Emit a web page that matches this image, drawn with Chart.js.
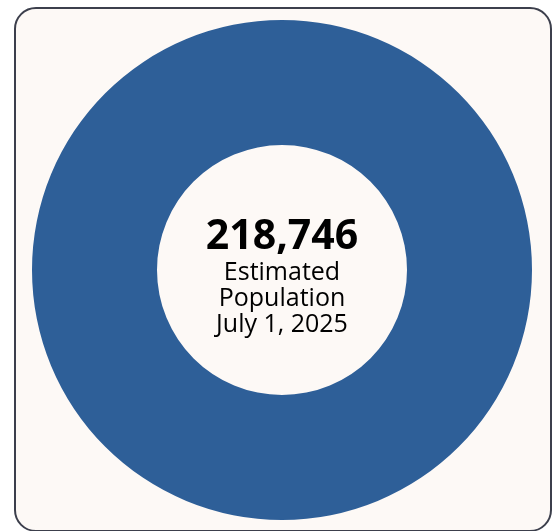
<!DOCTYPE html>
<html>
<head>
<meta charset="utf-8">
<script src="https://cdn.jsdelivr.net/npm/chart.js@4"></script>
<style>
  html, body { margin: 0; padding: 0; background: #ffffff; width: 554px; height: 531px; overflow: hidden; }
  #card { position: absolute; left: 14px; top: 7px; width: 534px; height: 521px;
          border: 2px solid #3c3f4c; border-radius: 22px; background: #fdf9f6; }
  #wrap { position: absolute; left: 32px; top: 20px; width: 500px; height: 500px; }
</style>
</head>
<body>
<div id="card"></div>
<div id="wrap"><canvas id="c" width="500" height="500"></canvas></div>
<script>
const categories = ["Estimated Population July 1, 2025"];
const values = [218746];
const centerValue = "218,746";
const centerLines = ["Estimated", "Population", "July 1, 2025"];

const centerText = {
  id: 'centerText',
  afterDraw(chart) {
    const ctx = chart.ctx;
    const meta = chart.getDatasetMeta(0).data[0];
    const x = meta.x, y = meta.y;
    ctx.save();
    ctx.fillStyle = '#000000';
    ctx.textAlign = 'center';
    ctx.textBaseline = 'alphabetic';
    ctx.font = 'bold 41px "Open Sans", sans-serif';
    ctx.fillText(centerValue, x, y - 21);
    ctx.font = '25px "Open Sans", sans-serif';
    centerLines.forEach((t, i) => ctx.fillText(t, x, y + 10 + i * 26));
    ctx.restore();
  }
};

new Chart(document.getElementById('c'), {
  type: 'doughnut',
  data: {
    labels: categories,
    datasets: [{ data: values, backgroundColor: ['#2e5f98'], borderWidth: 0, hoverOffset: 0 }]
  },
  options: {
    responsive: false,
    animation: false,
    cutout: '50%',
    layout: { padding: 0 },
    plugins: { legend: { display: false }, tooltip: { enabled: false } }
  },
  plugins: [centerText]
});
</script>
</body>
</html>
